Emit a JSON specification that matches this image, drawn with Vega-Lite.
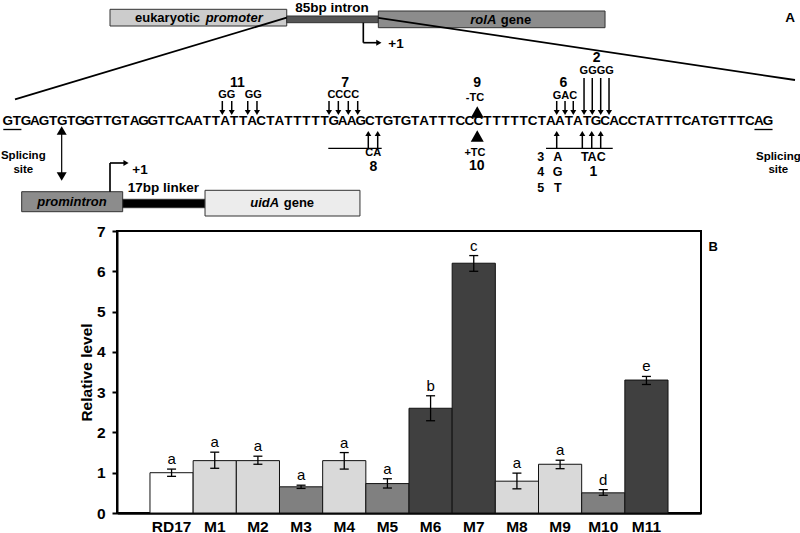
{
  "$schema": "https://vega.github.io/schema/vega-lite/v6.json",
  "background": "white",
  "padding": 0,
  "spacing": 0,
  "bounds": "flush",
  "resolve": {"scale": {"color": "independent", "strokeWidth": "independent", "shape": "independent", "size": "independent", "x": "independent", "y": "independent"}},
  "config": {"font": "Liberation Sans", "view": {"stroke": null}},
  "datasets": {
    "seq": [
      {"pos":1,"base":"G"},{"pos":2,"base":"T"},{"pos":3,"base":"G"},{"pos":4,"base":"A"},{"pos":5,"base":"G"},
      {"pos":6,"base":"T"},{"pos":7,"base":"G"},{"pos":8,"base":"T"},{"pos":9,"base":"G"},{"pos":10,"base":"G"},
      {"pos":11,"base":"T"},{"pos":12,"base":"T"},{"pos":13,"base":"G"},{"pos":14,"base":"T"},{"pos":15,"base":"A"},
      {"pos":16,"base":"G"},{"pos":17,"base":"G"},{"pos":18,"base":"T"},{"pos":19,"base":"T"},{"pos":20,"base":"C"},
      {"pos":21,"base":"A"},{"pos":22,"base":"A"},{"pos":23,"base":"T"},{"pos":24,"base":"T"},{"pos":25,"base":"A"},
      {"pos":26,"base":"T"},{"pos":27,"base":"T"},{"pos":28,"base":"A"},{"pos":29,"base":"C"},{"pos":30,"base":"T"},
      {"pos":31,"base":"A"},{"pos":32,"base":"T"},{"pos":33,"base":"T"},{"pos":34,"base":"T"},{"pos":35,"base":"T"},
      {"pos":36,"base":"T"},{"pos":37,"base":"G"},{"pos":38,"base":"A"},{"pos":39,"base":"A"},{"pos":40,"base":"G"},
      {"pos":41,"base":"C"},{"pos":42,"base":"T"},{"pos":43,"base":"G"},{"pos":44,"base":"T"},{"pos":45,"base":"G"},
      {"pos":46,"base":"T"},{"pos":47,"base":"A"},{"pos":48,"base":"T"},{"pos":49,"base":"T"},{"pos":50,"base":"T"},
      {"pos":51,"base":"C"},{"pos":52,"base":"C"},{"pos":53,"base":"C"},{"pos":54,"base":"T"},{"pos":55,"base":"T"},
      {"pos":56,"base":"T"},{"pos":57,"base":"T"},{"pos":58,"base":"T"},{"pos":59,"base":"C"},{"pos":60,"base":"T"},
      {"pos":61,"base":"A"},{"pos":62,"base":"A"},{"pos":63,"base":"T"},{"pos":64,"base":"A"},{"pos":65,"base":"T"},
      {"pos":66,"base":"G"},{"pos":67,"base":"C"},{"pos":68,"base":"A"},{"pos":69,"base":"C"},{"pos":70,"base":"C"},
      {"pos":71,"base":"T"},{"pos":72,"base":"A"},{"pos":73,"base":"T"},{"pos":74,"base":"T"},{"pos":75,"base":"T"},
      {"pos":76,"base":"C"},{"pos":77,"base":"A"},{"pos":78,"base":"T"},{"pos":79,"base":"G"},{"pos":80,"base":"T"},
      {"pos":81,"base":"T"},{"pos":82,"base":"T"},{"pos":83,"base":"C"},{"pos":84,"base":"A"},{"pos":85,"base":"G"}
    ],
    "boxes": [
      {"part":"promoter","pos":12.29,"pos2":31.82,"row":0.83,"row2":2.5},
      {"part":"intron","pos":31.82,"pos2":41.94,"row":1.5,"row2":2.17},
      {"part":"rolA","pos":41.94,"pos2":66.99,"row":1.0,"row2":2.67},
      {"part":"promintron","pos":2.53,"pos2":13.69,"row":19.07,"row2":21.07},
      {"part":"linker","pos":13.69,"pos2":22.79,"row":19.83,"row2":20.67},
      {"part":"uidA","pos":22.79,"pos2":39.91,"row":18.93,"row2":21.5}
    ],
    "lines": [
      {"pos":31.82,"row":1.67,"pos2":1.79,"row2":9.83,"kind":"diag"},
      {"pos":41.94,"row":1.68,"pos2":87.98,"row2":7.9,"kind":"diag"},
      {"pos":40.28,"row":2.17,"pos2":40.28,"row2":4.17,"kind":"thin"},
      {"pos":40.28,"row":4.17,"pos2":41.9,"row2":4.17,"kind":"thin"},
      {"pos":24.70,"row":10.0,"pos2":24.70,"row2":11.1,"kind":"arrow"},
      {"pos":25.74,"row":10.0,"pos2":25.74,"row2":11.1,"kind":"arrow"},
      {"pos":27.51,"row":10.0,"pos2":27.51,"row2":11.1,"kind":"arrow"},
      {"pos":28.53,"row":10.0,"pos2":28.53,"row2":11.1,"kind":"arrow"},
      {"pos":36.49,"row":10.0,"pos2":36.49,"row2":11.1,"kind":"arrow"},
      {"pos":37.52,"row":10.0,"pos2":37.52,"row2":11.1,"kind":"arrow"},
      {"pos":38.62,"row":10.0,"pos2":38.62,"row2":11.1,"kind":"arrow"},
      {"pos":39.66,"row":10.0,"pos2":39.66,"row2":11.1,"kind":"arrow"},
      {"pos":61.65,"row":10.0,"pos2":61.65,"row2":11.1,"kind":"arrow"},
      {"pos":62.57,"row":10.0,"pos2":62.57,"row2":11.1,"kind":"arrow"},
      {"pos":63.48,"row":10.0,"pos2":63.48,"row2":11.1,"kind":"arrow"},
      {"pos":64.67,"row":7.7,"pos2":64.67,"row2":11.1,"kind":"arrow"},
      {"pos":65.58,"row":7.7,"pos2":65.58,"row2":11.1,"kind":"arrow"},
      {"pos":66.51,"row":7.7,"pos2":66.51,"row2":11.1,"kind":"arrow"},
      {"pos":67.43,"row":7.7,"pos2":67.43,"row2":11.1,"kind":"arrow"},
      {"pos":40.83,"row":13.3,"pos2":40.83,"row2":14.73,"kind":"arrow"},
      {"pos":41.87,"row":13.3,"pos2":41.87,"row2":14.73,"kind":"arrow"},
      {"pos":61.65,"row":13.3,"pos2":61.65,"row2":14.73,"kind":"arrow"},
      {"pos":64.48,"row":13.3,"pos2":64.48,"row2":14.73,"kind":"arrow"},
      {"pos":65.52,"row":13.3,"pos2":65.52,"row2":14.73,"kind":"arrow"},
      {"pos":66.51,"row":13.3,"pos2":66.51,"row2":14.73,"kind":"arrow"},
      {"pos":36.41,"row":14.73,"pos2":42.31,"row2":14.73,"kind":"hline"},
      {"pos":60.47,"row":14.73,"pos2":67.84,"row2":14.73,"kind":"hline"},
      {"pos":0.5,"row":12.85,"pos2":2.5,"row2":12.85,"kind":"hline"},
      {"pos":83.5,"row":12.85,"pos2":85.5,"row2":12.85,"kind":"hline"},
      {"pos":6.95,"row":12.95,"pos2":6.95,"row2":17.55,"kind":"thick"},
      {"pos":12.29,"row":19.07,"pos2":12.29,"row2":16.2,"kind":"thin"},
      {"pos":12.29,"row":16.2,"pos2":13.9,"row2":16.2,"kind":"thin"}
    ],
    "heads": [
      {"pos":42.0,"row":4.17,"kind":"right"},
      {"pos":14.06,"row":16.2,"kind":"right"},
      {"pos":24.70,"row":11.15,"kind":"down"},
      {"pos":25.74,"row":11.15,"kind":"down"},
      {"pos":27.51,"row":11.15,"kind":"down"},
      {"pos":28.53,"row":11.15,"kind":"down"},
      {"pos":36.49,"row":11.15,"kind":"down"},
      {"pos":37.52,"row":11.15,"kind":"down"},
      {"pos":38.62,"row":11.15,"kind":"down"},
      {"pos":39.66,"row":11.15,"kind":"down"},
      {"pos":61.65,"row":11.15,"kind":"down"},
      {"pos":62.57,"row":11.15,"kind":"down"},
      {"pos":63.48,"row":11.15,"kind":"down"},
      {"pos":64.67,"row":11.15,"kind":"down"},
      {"pos":65.58,"row":11.15,"kind":"down"},
      {"pos":66.51,"row":11.15,"kind":"down"},
      {"pos":67.43,"row":11.15,"kind":"down"},
      {"pos":40.83,"row":13.25,"kind":"up"},
      {"pos":41.87,"row":13.25,"kind":"up"},
      {"pos":61.65,"row":13.25,"kind":"up"},
      {"pos":64.48,"row":13.25,"kind":"up"},
      {"pos":65.52,"row":13.25,"kind":"up"},
      {"pos":66.51,"row":13.25,"kind":"up"},
      {"pos":52.87,"row":11.1,"kind":"wedge"},
      {"pos":52.87,"row":13.5,"kind":"wedge"},
      {"pos":6.95,"row":12.95,"kind":"dup"},
      {"pos":6.95,"row":17.55,"kind":"ddown"}
    ],
    "labels": [
      {"text":"11","pos":26.36,"row":8.17,"kind":"num"},
      {"text":"7","pos":38.26,"row":8.17,"kind":"num"},
      {"text":"9","pos":52.87,"row":8.17,"kind":"num"},
      {"text":"6","pos":62.38,"row":8.17,"kind":"num"},
      {"text":"2","pos":66.07,"row":5.67,"kind":"num"},
      {"text":"8","pos":41.38,"row":16.55,"kind":"num"},
      {"text":"10","pos":52.81,"row":16.45,"kind":"num"},
      {"text":"1","pos":65.69,"row":17.05,"kind":"num"},
      {"text":"GG","pos":25.19,"row":9.38,"kind":"small"},
      {"text":"GG","pos":28.12,"row":9.38,"kind":"small"},
      {"text":"CCCC","pos":38.07,"row":9.42,"kind":"small"},
      {"text":"-TC","pos":52.62,"row":9.67,"kind":"small"},
      {"text":"GAC","pos":62.57,"row":9.5,"kind":"small"},
      {"text":"GGGG","pos":66.07,"row":7.0,"kind":"small"},
      {"text":"CA","pos":41.38,"row":15.2,"kind":"small"},
      {"text":"+TC","pos":52.62,"row":15.17,"kind":"small"},
      {"text":"3","pos":59.88,"row":15.57,"kind":"mid"},
      {"text":"4","pos":59.88,"row":17.1,"kind":"mid"},
      {"text":"5","pos":59.88,"row":18.67,"kind":"mid"},
      {"text":"A","pos":61.76,"row":15.57,"kind":"mid"},
      {"text":"G","pos":61.76,"row":17.1,"kind":"mid"},
      {"text":"T","pos":61.76,"row":18.67,"kind":"mid"},
      {"text":"TAC","pos":65.69,"row":15.57,"kind":"mid"},
      {"text":"85bp intron","pos":36.82,"row":0.65,"kind":"text"},
      {"text":"17bp linker","pos":18.18,"row":18.67,"kind":"text"},
      {"text":"+1","pos":43.89,"row":4.3,"kind":"text"},
      {"text":"+1","pos":15.6,"row":16.93,"kind":"text"},
      {"text":"A","pos":87.43,"row":1.67,"kind":"text"},
      {"text":"Splicing","pos":2.71,"row":15.5,"kind":"site"},
      {"text":"site","pos":2.71,"row":16.93,"kind":"site"},
      {"text":"Splicing","pos":86.14,"row":15.6,"kind":"site"},
      {"text":"site","pos":86.14,"row":16.93,"kind":"site"},
      {"text":"eukaryotic","pos":18.64,"row":1.67,"kind":"box"},
      {"text":"gene","pos":57.15,"row":1.87,"kind":"box"},
      {"text":"gene","pos":33.16,"row":20.2,"kind":"box"},
      {"text":"promoter","pos":26.01,"row":1.67,"kind":"boxital"},
      {"text":"rolA","pos":53.54,"row":1.87,"kind":"boxital"},
      {"text":"uidA","pos":29.38,"row":20.2,"kind":"boxital"},
      {"text":"promintron","pos":8.09,"row":20.07,"kind":"boxital"}
    ],
    "bars": [
      {"name":"RD17","value":1.0,"lo":0.91,"hi":1.09,"letter":"a","group":"control"},
      {"name":"M1","value":1.3,"lo":1.11,"hi":1.51,"letter":"a","group":"light"},
      {"name":"M2","value":1.3,"lo":1.21,"hi":1.41,"letter":"a","group":"light"},
      {"name":"M3","value":0.65,"lo":0.61,"hi":0.69,"letter":"a","group":"medium"},
      {"name":"M4","value":1.3,"lo":1.09,"hi":1.5,"letter":"a","group":"light"},
      {"name":"M5","value":0.73,"lo":0.62,"hi":0.85,"letter":"a","group":"medium"},
      {"name":"M6","value":2.6,"lo":2.29,"hi":2.91,"letter":"b","group":"dark"},
      {"name":"M7","value":6.2,"lo":6.0,"hi":6.39,"letter":"c","group":"dark"},
      {"name":"M8","value":0.79,"lo":0.6,"hi":0.99,"letter":"a","group":"light"},
      {"name":"M9","value":1.21,"lo":1.1,"hi":1.31,"letter":"a","group":"light"},
      {"name":"M10","value":0.5,"lo":0.44,"hi":0.58,"letter":"d","group":"medium"},
      {"name":"M11","value":3.3,"lo":3.19,"hi":3.39,"letter":"e","group":"dark"}
    ]
  },
  "vconcat": [
    {
      "width": 584,
      "height": 230,
      "view": {"stroke": null},
      "layer": [
        {
          "data": {"name": "boxes"},
          "mark": {"type": "rect", "stroke": "#333333", "strokeWidth": 1},
          "encoding": {
            "x": {"field": "pos", "type": "quantitative", "scale": {"domain": [13.063, 77.594], "nice": false, "zero": false}, "axis": null},
            "y": {"field": "row", "type": "quantitative", "scale": {"domain": [0, 23], "reverse": true, "nice": false, "zero": false}, "axis": null},
            "x2": {"field": "pos2"},
            "y2": {"field": "row2"},
            "color": {"field": "part", "type": "nominal", "legend": null,
              "scale": {"domain": ["promoter", "intron", "rolA", "promintron", "linker", "uidA"],
                        "range": ["#cccccc", "#555555", "#8c8c8c", "#8c8c8c", "#000000", "#ececec"]}}
          }
        },
        {
          "data": {"name": "lines"},
          "mark": {"type": "rule", "color": "black"},
          "encoding": {
            "x": {"field": "pos", "type": "quantitative", "scale": {"domain": [13.063, 77.594], "nice": false, "zero": false}, "axis": null},
            "y": {"field": "row", "type": "quantitative", "scale": {"domain": [0, 23], "reverse": true, "nice": false, "zero": false}, "axis": null},
            "x2": {"field": "pos2"},
            "y2": {"field": "row2"},
            "strokeWidth": {"field": "kind", "type": "nominal", "legend": null,
              "scale": {"domain": ["diag", "thin", "arrow", "hline", "thick"], "range": [1.8, 1.2, 1.3, 1.6, 3]}}
          }
        },
        {
          "data": {"name": "heads"},
          "transform": [{"filter": "datum.kind === 'up' || datum.kind === 'down' || datum.kind === 'right'"}],
          "mark": {"type": "point", "filled": true, "color": "black", "opacity": 1, "strokeWidth": 0, "size": 36},
          "encoding": {
            "x": {"field": "pos", "type": "quantitative", "scale": {"domain": [13.063, 77.594], "nice": false, "zero": false}, "axis": null},
            "y": {"field": "row", "type": "quantitative", "scale": {"domain": [0, 23], "reverse": true, "nice": false, "zero": false}, "axis": null},
            "shape": {"field": "kind", "type": "nominal", "legend": null,
              "scale": {"domain": ["up", "down", "right", "wedge", "dup", "ddown"],
                        "range": ["triangle-up", "triangle-down", "triangle-right", "triangle-up", "triangle-up", "triangle-down"]}}
          }
        },
        {
          "data": {"name": "heads"},
          "transform": [{"filter": "datum.kind === 'wedge'"}],
          "mark": {"type": "point", "filled": true, "color": "black", "opacity": 1, "strokeWidth": 0, "size": 170},
          "encoding": {
            "x": {"field": "pos", "type": "quantitative", "scale": {"domain": [13.063, 77.594], "nice": false, "zero": false}, "axis": null},
            "y": {"field": "row", "type": "quantitative", "scale": {"domain": [0, 23], "reverse": true, "nice": false, "zero": false}, "axis": null},
            "shape": {"field": "kind", "type": "nominal", "legend": null}
          }
        },
        {
          "data": {"name": "heads"},
          "transform": [{"filter": "datum.kind === 'dup' || datum.kind === 'ddown'"}],
          "mark": {"type": "point", "filled": true, "color": "black", "opacity": 1, "strokeWidth": 0, "size": 100},
          "encoding": {
            "x": {"field": "pos", "type": "quantitative", "scale": {"domain": [13.063, 77.594], "nice": false, "zero": false}, "axis": null},
            "y": {"field": "row", "type": "quantitative", "scale": {"domain": [0, 23], "reverse": true, "nice": false, "zero": false}, "axis": null},
            "shape": {"field": "kind", "type": "nominal", "legend": null}
          }
        },
        {
          "data": {"name": "labels"},
          "transform": [{"filter": "datum.kind === 'num'"}],
          "mark": {"type": "text", "fontSize": 14, "fontWeight": "bold", "baseline": "middle"},
          "encoding": {
            "x": {"field": "pos", "type": "quantitative", "scale": {"domain": [13.063, 77.594], "nice": false, "zero": false}, "axis": null},
            "y": {"field": "row", "type": "quantitative", "scale": {"domain": [0, 23], "reverse": true, "nice": false, "zero": false}, "axis": null},
            "text": {"field": "text"}
          }
        },
        {
          "data": {"name": "labels"},
          "transform": [{"filter": "datum.kind === 'small'"}],
          "mark": {"type": "text", "fontSize": 11, "fontWeight": "bold", "baseline": "middle"},
          "encoding": {
            "x": {"field": "pos", "type": "quantitative", "scale": {"domain": [13.063, 77.594], "nice": false, "zero": false}, "axis": null},
            "y": {"field": "row", "type": "quantitative", "scale": {"domain": [0, 23], "reverse": true, "nice": false, "zero": false}, "axis": null},
            "text": {"field": "text"}
          }
        },
        {
          "data": {"name": "labels"},
          "transform": [{"filter": "datum.kind === 'mid'"}],
          "mark": {"type": "text", "fontSize": 12.5, "fontWeight": "bold", "baseline": "middle"},
          "encoding": {
            "x": {"field": "pos", "type": "quantitative", "scale": {"domain": [13.063, 77.594], "nice": false, "zero": false}, "axis": null},
            "y": {"field": "row", "type": "quantitative", "scale": {"domain": [0, 23], "reverse": true, "nice": false, "zero": false}, "axis": null},
            "text": {"field": "text"}
          }
        },
        {
          "data": {"name": "labels"},
          "transform": [{"filter": "datum.kind === 'text'"}],
          "mark": {"type": "text", "fontSize": 13.5, "fontWeight": "bold", "baseline": "middle"},
          "encoding": {
            "x": {"field": "pos", "type": "quantitative", "scale": {"domain": [13.063, 77.594], "nice": false, "zero": false}, "axis": null},
            "y": {"field": "row", "type": "quantitative", "scale": {"domain": [0, 23], "reverse": true, "nice": false, "zero": false}, "axis": null},
            "text": {"field": "text"}
          }
        },
        {
          "data": {"name": "labels"},
          "transform": [{"filter": "datum.kind === 'site'"}],
          "mark": {"type": "text", "fontSize": 11.5, "fontWeight": "bold", "baseline": "middle"},
          "encoding": {
            "x": {"field": "pos", "type": "quantitative", "scale": {"domain": [13.063, 77.594], "nice": false, "zero": false}, "axis": null},
            "y": {"field": "row", "type": "quantitative", "scale": {"domain": [0, 23], "reverse": true, "nice": false, "zero": false}, "axis": null},
            "text": {"field": "text"}
          }
        },
        {
          "data": {"name": "labels"},
          "transform": [{"filter": "datum.kind === 'box'"}],
          "mark": {"type": "text", "fontSize": 13, "fontWeight": "bold", "baseline": "middle"},
          "encoding": {
            "x": {"field": "pos", "type": "quantitative", "scale": {"domain": [13.063, 77.594], "nice": false, "zero": false}, "axis": null},
            "y": {"field": "row", "type": "quantitative", "scale": {"domain": [0, 23], "reverse": true, "nice": false, "zero": false}, "axis": null},
            "text": {"field": "text"}
          }
        },
        {
          "data": {"name": "labels"},
          "transform": [{"filter": "datum.kind === 'boxital'"}],
          "mark": {"type": "text", "fontSize": 13, "fontWeight": "bold", "fontStyle": "italic", "baseline": "middle"},
          "encoding": {
            "x": {"field": "pos", "type": "quantitative", "scale": {"domain": [13.063, 77.594], "nice": false, "zero": false}, "axis": null},
            "y": {"field": "row", "type": "quantitative", "scale": {"domain": [0, 23], "reverse": true, "nice": false, "zero": false}, "axis": null},
            "text": {"field": "text"}
          }
        },
        {
          "data": {"name": "seq"},
          "mark": {"type": "text", "fontSize": 13.5, "fontWeight": "bold", "baseline": "middle", "color": "black"},
          "encoding": {
            "x": {"field": "pos", "type": "quantitative", "scale": {"domain": [13.063, 77.594], "nice": false, "zero": false}, "axis": null},
            "y": {"datum": 12.0, "type": "quantitative", "scale": {"domain": [0, 23], "reverse": true, "nice": false, "zero": false}, "axis": null},
            "text": {"field": "base", "type": "nominal"}
          }
        }
      ]
    },
    {
      "width": 584,
      "height": 282,
      "view": {"stroke": "black", "strokeWidth": 2},
      "title": {"text": "B", "anchor": "end", "frame": "group", "fontSize": 13, "fontWeight": "bold", "color": "black", "dx": 17, "dy": 34},
      "data": {"name": "bars"},
      "encoding": {
        "x": {"field": "name", "type": "nominal", "sort": null,
          "scale": {"paddingInner": 0, "paddingOuter": 0.764},
          "axis": {"title": null, "labelAngle": 0, "ticks": false, "labelFontSize": 15.5, "labelFontWeight": "bold",
                   "labelColor": "black", "labelPadding": 6, "domainColor": "black", "domainWidth": 2.5}}
      },
      "layer": [
        {
          "mark": {"type": "bar", "stroke": "#111111", "strokeWidth": 1},
          "encoding": {
            "y": {"field": "value", "type": "quantitative", "scale": {"domain": [0, 7], "nice": false},
              "axis": {"title": "Relative level", "titleFontSize": 15.5, "titleFontWeight": "bold", "titleColor": "black",
                       "titlePadding": 2, "values": [0, 1, 2, 3, 4, 5, 6, 7], "labelFontSize": 15.5, "labelFontWeight": "bold",
                       "labelColor": "black", "labelPadding": 7, "tickSize": 5, "tickWidth": 2, "tickColor": "black",
                       "domainColor": "black", "domainWidth": 2, "grid": false}},
            "color": {"field": "group", "type": "nominal", "legend": null,
              "scale": {"domain": ["control", "light", "medium", "dark"], "range": ["#ffffff", "#d9d9d9", "#808080", "#404040"]}}
          }
        },
        {
          "mark": {"type": "rule", "color": "black", "strokeWidth": 1.3},
          "encoding": {"y": {"field": "lo", "type": "quantitative"}, "y2": {"field": "hi"}}
        },
        {
          "mark": {"type": "tick", "color": "black", "thickness": 1.3, "size": 9, "opacity": 1},
          "encoding": {"y": {"field": "lo", "type": "quantitative"}}
        },
        {
          "mark": {"type": "tick", "color": "black", "thickness": 1.3, "size": 9, "opacity": 1},
          "encoding": {"y": {"field": "hi", "type": "quantitative"}}
        },
        {
          "mark": {"type": "text", "baseline": "bottom", "dy": -2, "fontSize": 15, "color": "black"},
          "encoding": {"y": {"field": "hi", "type": "quantitative"}, "text": {"field": "letter"}}
        }
      ]
    }
  ]
}
